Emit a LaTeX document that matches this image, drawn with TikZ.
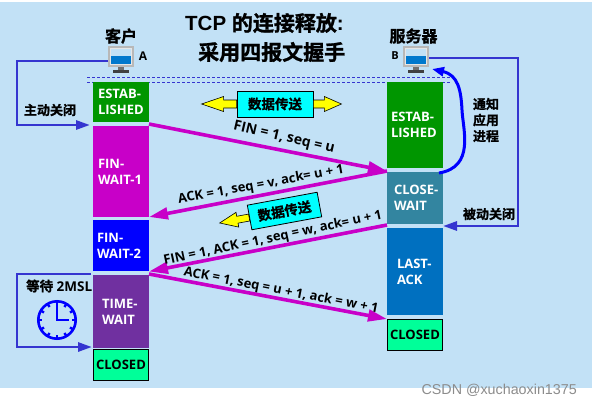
\documentclass[tikz,border=0pt]{standalone}
\usepackage{fontspec}
\setmainfont{Open Sans}
\newfontfamily\cjk{Noto Sans CJK SC}[BoldFont={Noto Sans CJK SC Bold},BoldFeatures={FakeBold=1.2}]
\newfontfamily\ariel{Liberation Sans}
\usetikzlibrary{arrows.meta,calc}
\definecolor{bgblue}{HTML}{C2E1F6}
\definecolor{mag}{HTML}{C800C8}
\definecolor{lineblue}{HTML}{3535D0}
\definecolor{closedg}{HTML}{00FF99}
\definecolor{cyanbox}{HTML}{00FFFF}
\definecolor{yellowbox}{HTML}{FFFF00}
\definecolor{pureblue}{HTML}{0000FF}
\definecolor{wmgray}{HTML}{8C8C8C}
\definecolor{stgreen}{HTML}{009600}
\definecolor{stpurple}{HTML}{7030A0}
\definecolor{stteal}{HTML}{3385A0}
\definecolor{stsky}{HTML}{0070C0}
\definecolor{screenblue}{HTML}{0078CD}
\definecolor{frameg}{HTML}{B8B8B8}
\definecolor{framel}{HTML}{E6E6E6}
\definecolor{standg}{HTML}{707070}
\definecolor{baseg}{HTML}{404040}
\tikzset{
  x=1pt,y=-1pt,
  state/.style={minimum width=56pt,text width=56pt,inner sep=0pt,outer sep=0pt,text=white,font=\fontsize{13}{16}\selectfont\bfseries,align=left,anchor=north west},
  closedbox/.style={inner sep=0pt,outer sep=0pt,anchor=north west,fill=closedg,draw=black,line width=.8pt,text=black,minimum width=55pt,align=center,font=\fontsize{13}{15}\selectfont\bfseries},
  msg/.style={mag,line width=3.6pt,-{Triangle[length=19pt,width=11.5pt]}},
  msgtext/.style={font=\fontsize{13}{15}\selectfont\bfseries,inner sep=0pt,text=black},
  ctrl/.style={lineblue,line width=2.8pt,-{Triangle[length=14pt,width=9pt]}},
  lab/.style={font=\cjk\fontsize{13}{16}\selectfont\bfseries,inner sep=0pt,text=black,align=center},
  hosttext/.style={font=\cjk\fontsize{16}{18}\selectfont\bfseries,inner sep=0pt,text=black},
  datalab/.style={draw=black,line width=.8pt,fill=cyanbox,minimum width=76pt,minimum height=26pt,inner sep=0pt,font=\cjk\fontsize{13.5}{15}\selectfont\bfseries},
  bigarrow/.style={draw=black,line width=.6pt,fill=yellowbox},
  titletext/.style={font=\ariel\fontsize{20.5}{24}\selectfont\bfseries,inner sep=0pt,anchor=west}
}
\newcommand{\monitor}[2]{%
  \begin{scope}[shift={(#1,#2)}]
    \fill[frameg] (0,0) rectangle (26,21);
    \fill[framel] (2,2) rectangle (24,19);
    \fill[bgblue] (3,3) rectangle (23,10);
    \fill[screenblue] (3,10) rectangle (23,18);
    \fill[standg] (10,21) rectangle (16,24);
    \fill[baseg] (5,24) rectangle (21,27);
  \end{scope}}
\begin{document}
\begin{tikzpicture}
\useasboundingbox (0,0) rectangle (592,405);
\fill[white] (0,0) rectangle (592,405);
\fill[bgblue] (0,2) rectangle (592,388);

% title
\node[titletext] (title1) at (185,23) {TCP {\cjk\fontsize{21}{24}\selectfont 的连接释放}:};
\node[titletext] (title2) at (198,52) {\cjk\fontsize{21}{24}\selectfont 采用四报文握手};

% hosts
\node[hosttext] (client) at (121,36) {客户};
\node[hosttext] (server) at (413.5,36) {服务器};
\monitor{108}{46}
\monitor{403}{46}
\coordinate (pcA) at (108,61);
\coordinate (pcB) at (429,58);
\node[font=\fontsize{12}{13}\selectfont\bfseries,inner sep=0pt] (hA) at (143,56) {A};
\node[font=\fontsize{11}{12}\selectfont\bfseries,inner sep=0pt] (hB) at (395,56) {B};

% dashed lines
\coordinate (d1l) at (87,77.5); \coordinate (d1r) at (450,77.5);
\coordinate (d2l) at (87,82); \coordinate (d2r) at (450,82);
\draw[lineblue,densely dashed,line width=.9pt] (d1l) -- (d1r);
\draw[lineblue,densely dashed,line width=.9pt] (d2l) -- (d2r);

% left states
\node[state,fill=stgreen,minimum height=40pt] (est1) at (93,82) {\hspace*{5pt}ESTAB-\\\hspace*{5pt}LISHED};
\node[state,fill=mag,minimum height=91pt] (fw1) at (93,126) {\hspace*{5pt}FIN-\\\hspace*{5pt}WAIT-1};
\node[state,fill=pureblue,minimum height=51pt] (fw2) at (93,220) {\hspace*{4pt}FIN-\\\hspace*{4pt}WAIT-2};
\node[state,fill=stpurple,minimum height=73pt] (tw) at (93,275) {\hspace*{9pt}TIME-\\\hspace*{9pt}WAIT};
\node[closedbox,minimum height=31pt] (cl1) at (93.5,349) {CLOSED};

% right states
\node[state,fill=stgreen,minimum height=86pt] (est2) at (387,82) {\hspace*{4pt}ESTAB-\\\hspace*{4pt}LISHED};
\node[state,fill=stteal,minimum height=52pt] (cw) at (387,172) {\hspace*{7pt}CLOSE-\\\hspace*{7pt}WAIT};
\node[state,fill=stsky,minimum height=87pt] (la) at (387,228) {\hspace*{10pt}LAST-\\\hspace*{10pt}ACK};
\node[closedbox,minimum height=31pt] (cl2) at (387.5,319.5) {CLOSED};

% gutter points
\coordinate (pL1) at (149,124);
\coordinate (pR1) at (387,171);
\coordinate (pL2) at (149,217);
\coordinate (pR3) at (387,225);
\coordinate (pL3) at (149,271.5);
\coordinate (pL4) at (149,274);
\coordinate (pR4) at (387,319);

% messages
\draw[msg] (pL1) -- (pR1);
\draw[msg] (pR1) -- (pL2);
\draw[msg] (pR3) -- (pL3);
\draw[msg] (pL4) -- (pR4);
\node[msgtext,rotate=-13,font=\fontsize{14}{15}\selectfont\bfseries] (m1) at (284,138) {FIN = 1, seq = u};
\node[msgtext,rotate=10.4] (m2) at (261,185) {ACK = 1, seq = v, ack= u + 1};
\node[msgtext,rotate=12] (m3) at (273,238.5) {FIN = 1, ACK = 1, seq = w, ack= u + 1};
\node[msgtext,rotate=-11] (m4) at (281,291) {ACK = 1, seq = u + 1, ack = w + 1};

% data arrows
\node[datalab] (d1) at (275,104) {数据传送};
\draw[bigarrow] (d1.west) ++(0,-4) -- ++(-13,0) -- ++(0,-3.5) -- ++(-22,7.5) -- ++(22,7.5) -- ++(0,-3.5) -- ++(13,0) -- cycle;
\draw[bigarrow] (d1.east) ++(0,-4) -- ++(11,0) -- ++(0,-3.5) -- ++(17,7.5) -- ++(-17,7.5) -- ++(0,-3.5) -- ++(-11,0) -- cycle;
\node[datalab,rotate=10.5,minimum width=71pt,minimum height=25pt] (d2) at (284.5,211) {数据传送};
\begin{scope}[rotate around={10.5:(d2.west)}]
\draw[bigarrow] (d2.west) ++(0,-3.5) -- ++(-12,0) -- ++(0,-4) -- ++(-18,7.5) -- ++(18,7.5) -- ++(0,-4) -- ++(12,0) -- cycle;
\end{scope}

% active close
\coordinate (ac1) at (17,61);
\coordinate (ac2) at (17,125);
\coordinate (ac3) at (90,125);
\draw[ctrl] (pcA) -- (ac1) -- (ac2) -- (ac3);
\node[lab] (ac) at (50,110) {主动关闭};

% passive close
\coordinate (pc1) at (518,58);
\coordinate (pc2) at (518,226);
\coordinate (pc3) at (443,226);
\draw[ctrl] (pcB) -- (pc1) -- (pc2) -- (pc3);
\node[lab] (pc) at (489,214) {被动关闭};

% notify
\coordinate (n0) at (439,173);
\draw[pureblue,line width=3pt,-{Triangle[length=12pt,width=9pt]}] (n0) .. controls (475,167) and (463,130) .. (462,110) .. controls (461,90) and (458,75) .. (432,69);
\node[lab] (nt) at (486,120) {通知\\应用\\进程};

% TIME-WAIT loop
\coordinate (w1) at (91,274);
\coordinate (w2) at (17,274);
\coordinate (w3) at (17,347);
\coordinate (w4) at (92,347);
\draw[ctrl] (w1) -- (w2) -- (w3) -- (w4);
\node[font=\fontsize{13.5}{14}\selectfont\bfseries,inner sep=0pt,anchor=west] (wt) at (26,286) {{\cjk 等待} 2MSL};

% clock
\coordinate (ck) at (57,320);
\draw[pureblue,line width=2.6pt] (ck) circle (18.7);
\foreach \a in {0,30,...,330} \draw[pureblue,line width=2.4pt] (ck) ++(\a:19) -- ++(\a+180:4);
\draw[pureblue,line width=2.8pt] (57,304) -- (57,320) -- (69,320);

% watermark
\node[font=\ariel\fontsize{14.3}{16}\selectfont,text=wmgray,inner sep=0pt,anchor=east] (wm) at (577,390) {CSDN @xuchaoxin1375};
\end{tikzpicture}
\end{document}
